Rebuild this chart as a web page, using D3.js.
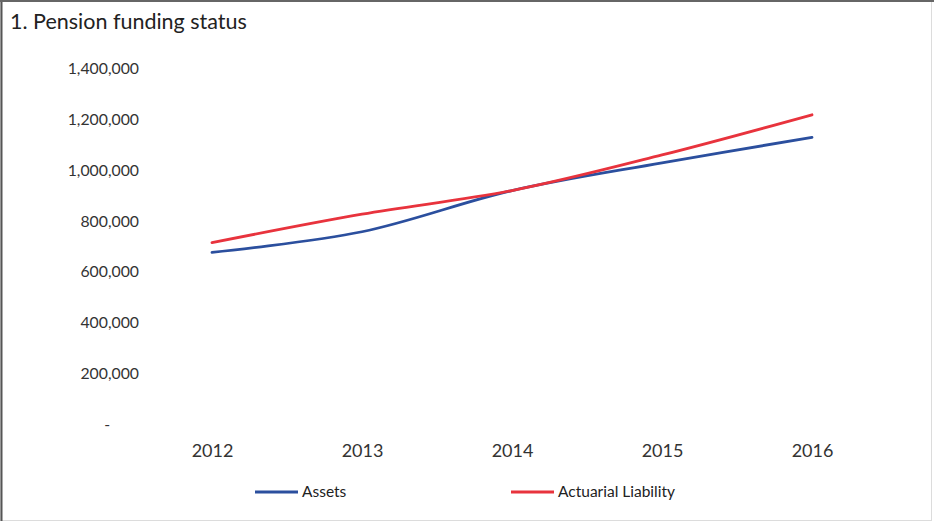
<!DOCTYPE html>
<html><head><meta charset="utf-8">
<script src="https://cdn.jsdelivr.net/npm/d3@7"></script>
<style>
html,body{margin:0;padding:0;background:#fff;}
svg{display:block;font-family:Lato,"Open Sans",sans-serif;}
</style></head>
<body>
<svg id="chart" width="934" height="525"></svg>
<script>
const years = ["2012","2013","2014","2015","2016"];
const assets = [677000, 758000, 920000, 1029000, 1129000];
const liability = [715000, 827000, 920000, 1060000, 1218000];
const yTicks = [0, 200000, 400000, 600000, 800000, 1000000, 1200000, 1400000];
const seriesNames = ["Assets", "Actuarial Liability"];
const seriesColors = ["#2b4f9e", "#e8333d"];
const title = "1. Pension funding status";

const svg = d3.select("#chart");
const W = 934, H = 525;

// frame
svg.append("rect").attr("x",0.5).attr("y",0.5).attr("width",W-3).attr("height",H-5)
  .attr("fill","#fff").attr("stroke","#dcdcdc").attr("stroke-width",1);
svg.append("line").attr("x1",1.5).attr("x2",1.5).attr("y1",0).attr("y2",H-4)
  .attr("stroke","#555").attr("stroke-width",2);
svg.append("line").attr("x1",0).attr("x2",W).attr("y1",1).attr("y2",1)
  .attr("stroke","#666").attr("stroke-width",2);

svg.append("text").attr("x",10).attr("y",29).attr("font-size",21.5).attr("fill","#222")
  .text(title);

const x = d3.scalePoint().domain(years).range([212, 812]);
const y = d3.scaleLinear().domain([0, 1400000]).range([424.5, 68.5]);

const fmt = d3.format(",");
const yAxis = svg.append("g").attr("transform","translate(139,0)")
  .call(d3.axisLeft(y).tickValues(yTicks).tickSize(0).tickPadding(0)
    .tickFormat(d => d === 0 ? "-" : fmt(d)));
yAxis.select(".domain").remove();
yAxis.selectAll("text").attr("font-size",15.8).attr("fill","#333")
  .attr("font-family","Lato, sans-serif");
yAxis.selectAll(".tick").filter(d => d === 0).select("text").attr("dx",-29);

const xAxis = svg.append("g").attr("transform","translate(0,451)")
  .call(d3.axisBottom(x).tickSize(0).tickPadding(0));
xAxis.select(".domain").remove();
xAxis.selectAll("text").attr("font-size",18).attr("fill","#333")
  .attr("font-family","Lato, sans-serif").attr("dy","0.35em");

const line = d3.line().x((d,i) => x(years[i])).y(d => y(d)).curve(d3.curveCatmullRom.alpha(0.5));
[assets, liability].forEach((s, k) => {
  svg.append("path").datum(s).attr("d", line).attr("fill","none")
    .attr("stroke", seriesColors[k]).attr("stroke-width",2.8).attr("stroke-linecap","round");
});

// legend
const legX = [255, 511];
seriesNames.forEach((n, k) => {
  const g = svg.append("g").attr("transform",`translate(${legX[k]},492)`);
  g.append("line").attr("x1",0).attr("x2",43).attr("y1",0).attr("y2",0)
    .attr("stroke",seriesColors[k]).attr("stroke-width",3);
  g.append("text").attr("x",47).attr("y",0).attr("dy","0.35em").attr("font-size",15.5)
    .attr("fill","#222").text(n);
});
</script>
</body></html>
